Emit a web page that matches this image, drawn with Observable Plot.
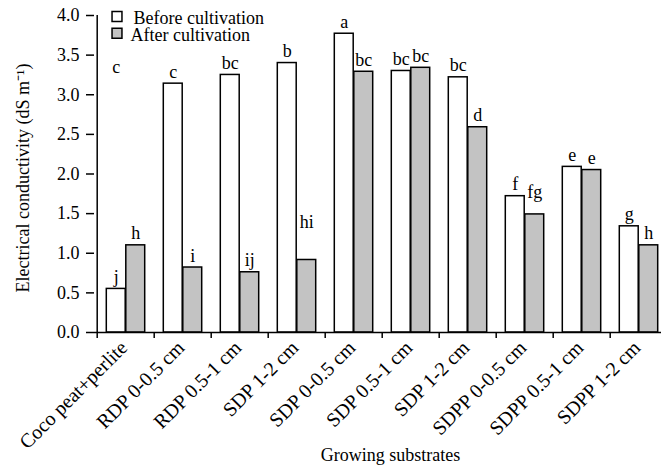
<!DOCTYPE html>
<html><head><meta charset="utf-8">
<script src="https://cdn.jsdelivr.net/npm/d3@7"></script>
<script src="https://cdn.jsdelivr.net/npm/@observablehq/plot@0.6"></script>
<style>body{margin:0;background:#fff;} svg text{font-family:"Liberation Serif","Times New Roman",serif;}</style>
</head><body><div id="chart"></div>
<script>
const categories = ["Coco peat+perlite","RDP 0-0.5 cm","RDP 0.5-1 cm","SDP 1-2 cm","SDP 0-0.5 cm","SDP 0.5-1 cm","SDP 1-2 cm","SDPP 0-0.5 cm","SDPP 0.5-1 cm","SDPP 1-2 cm"];
const before = [0.55, 3.14, 3.25, 3.40, 3.77, 3.30, 3.22, 1.72, 2.09, 1.34];
const after  = [1.10, 0.82, 0.76, 0.915, 3.29, 3.34, 2.59, 1.49, 2.05, 1.10];
const beforeLetters = ["j","c","bc","b","a","bc","bc","f","e","g"];
const afterLetters  = ["h","i","ij","hi","bc","bc","d","fg","e","h"];
// letter heights where the letter is not sitting on its bar (data units)
const afterLetterAt = [null, null, null, 1.24, null, null, null, 1.62, null, null];
const strayLetter = {i: 0, letter: "c", at: 3.2};
const yTicks = [0, 0.5, 1.0, 1.5, 2.0, 2.5, 3.0, 3.5, 4.0];
const legendLabels = ["Before cultivation", "After cultivation"];

const idx = categories.map((_, i) => i);
const rows = idx.map(i => ({i, before: before[i], after: after[i]}));
const bLetters = idx.map(i => ({i, letter: beforeLetters[i], at: before[i]})).concat([strayLetter]);
const aLetters = idx.map(i => ({i, letter: afterLetters[i], at: afterLetterAt[i] ?? after[i]}));

const font = "'Liberation Serif', 'Times New Roman', serif";
const grey = "#c3c3c3";

const plot = Plot.plot({
  width: 661, height: 470,
  marginLeft: 94, marginTop: 15, marginBottom: 138, marginRight: 0,
  style: {fontFamily: font, fontSize: "18px", background: "white", color: "black", overflow: "visible"},
  x: {type: "band", domain: idx, range: [94, 670], padding: 0},
  y: {domain: [0, 4], range: [332, 15]},
  marks: [
    Plot.barY(rows, {x: "i", y: "before", fill: "white", stroke: "black", strokeWidth: 1.5, insetLeft: 9.3, insetRight: 28.8}),
    Plot.barY(rows, {x: "i", y: "after", fill: grey, stroke: "black", strokeWidth: 1.5, insetLeft: 28.8, insetRight: 9.3}),
    Plot.ruleY([0], {strokeWidth: 1.5}),
    Plot.axisY({ticks: yTicks, tickFormat: ".1f", tickSize: 8, tickPadding: 7, strokeWidth: 1.5, label: null, fontSize: 18}),
    Plot.ruleX([0], {x: () => 0, dx: -28.8, strokeWidth: 1.5}),
    Plot.axisX({tickSize: 6, tickFormat: () => "", dx: -28.8, strokeWidth: 1.5, label: null}),
    Plot.axisX({tickSize: 0, tickRotate: -45, textAnchor: "end", tickPadding: 12, dx: -2, tickFormat: i => categories[i], label: null, fontSize: 20}),
    Plot.text(bLetters, {x: "i", y: "at", text: "letter", dx: -9.75, dy: -6, lineAnchor: "bottom", fontSize: 18}),
    Plot.text(aLetters, {x: "i", y: "at", text: "letter", dx: 9.75, dy: -6, lineAnchor: "bottom", fontSize: 18}),
    Plot.dot([0], {frameAnchor: "top-left", dx: 22.5, dy: 1, symbol: "square", r: 5.6, fill: "white", stroke: "black", strokeWidth: 1.5}),
    Plot.dot([0], {frameAnchor: "top-left", dx: 22.5, dy: 17.7, symbol: "square", r: 5.6, fill: grey, stroke: "black", strokeWidth: 1.5}),
    Plot.text([legendLabels[0]], {frameAnchor: "top-left", dx: 39, dy: 3, textAnchor: "start", lineAnchor: "middle", fontSize: 18}),
    Plot.text([legendLabels[1]], {frameAnchor: "top-left", dx: 36, dy: 20, textAnchor: "start", lineAnchor: "middle", fontSize: 18}),
    Plot.text(["Electrical conductivity (dS m\u207B\u00B9)"], {frameAnchor: "left", rotate: -90, textAnchor: "middle", lineAnchor: "middle", dx: -71, dy: 4, fontSize: 18}),
    Plot.text(["Growing substrates"], {frameAnchor: "bottom", textAnchor: "middle", lineAnchor: "middle", dx: 12.5, dy: 123, fontSize: 18})
  ]
});
document.getElementById("chart").append(plot);
</script>
</body></html>
